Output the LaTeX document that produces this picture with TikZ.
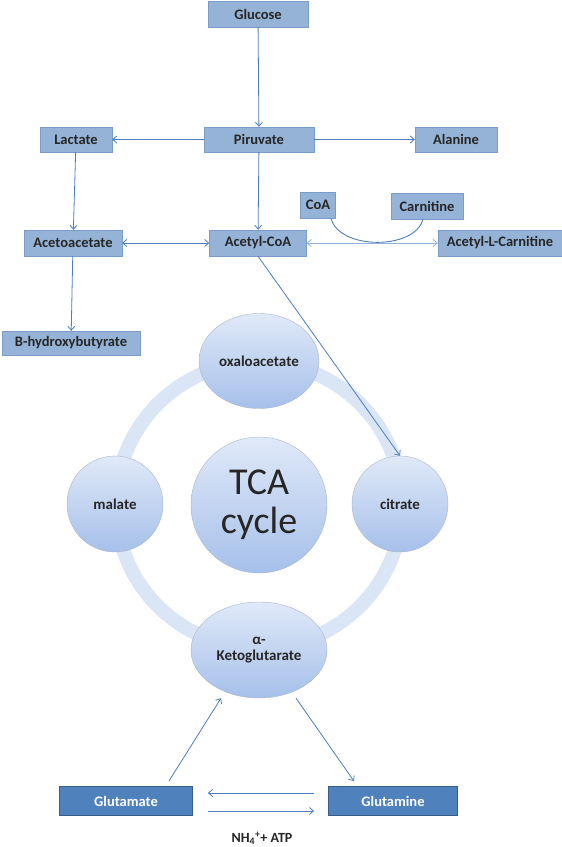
\documentclass[tikz,border=0pt]{standalone}
\usepackage{fontspec}
\setmainfont{Carlito}
\usetikzlibrary{arrows.meta,positioning,shapes.geometric}
\definecolor{boxblue}{RGB}{149,179,215}
\definecolor{boxedge}{RGB}{122,156,200}
\definecolor{darkblue}{RGB}{79,129,189}
\definecolor{darkedge}{RGB}{56,93,138}
\definecolor{arrowblue}{RGB}{74,126,191}
\definecolor{ringblue}{RGB}{218,229,245}
\definecolor{circtop}{RGB}{224,233,248}
\definecolor{circbot}{RGB}{166,192,234}
\definecolor{circedge}{RGB}{170,182,202}
\tikzset{
  metbox/.style={draw=boxedge, fill=boxblue, inner sep=0pt, minimum height=26pt, text=black!85, font=\fontsize{14.5}{16}\selectfont\bfseries},
  darkbox/.style={draw=darkedge, line width=0.8pt, fill=darkblue, inner sep=0pt, minimum height=29pt, text=white, font=\fontsize{14.5}{16}\selectfont\bfseries},
  cyclenode/.style={ellipse, draw=circedge, top color=circtop, bottom color=circbot, inner sep=0pt, align=center, text=black!85, font=\fontsize{15}{16}\selectfont\bfseries},
  metarrow/.style={-{Straight Barb[length=4pt,width=7pt]}, draw=arrowblue, line width=0.8pt},
  metboth/.style={{Straight Barb[length=4pt,width=7pt]}-{Straight Barb[length=4pt,width=7pt]}, draw=arrowblue, line width=0.8pt}
}
\begin{document}
\begin{tikzpicture}[x=1pt, y=-1pt]
  \useasboundingbox[fill=white] (0,0) rectangle (562,847);
  % upper pathway
  \node[metbox, minimum width=100pt] (glucose) at (258,14) {Glucose};
  \node[metbox, minimum width=110pt, minimum height=25pt] (piruvate) at (259,139.5) {Piruvate};
  \node[metbox, minimum width=72pt, minimum height=25pt] (lactate) at (76,139.5) {Lactate};
  \node[metbox, minimum width=82pt, minimum height=25pt] (alanine) at (456,139.5) {Alanine};
  \node[metbox, minimum width=35pt] (coa) at (318,205) {CoA};
  \node[metbox, minimum width=72pt] (carnitine) at (427,206) {Carnitine};
  \node[metbox, minimum width=98pt] (acetoacetate) at (73,243) {Acetoacetate};
  \node[metbox, minimum width=97pt] (acetylcoa) at (258,243) {Acetyl-CoA};
  \node[metbox, minimum width=124pt] (acetylcarn) at (500,243) {Acetyl-L-Carnitine};
  \node[metbox, minimum width=138pt, minimum height=24pt] (hydroxy) at (71,343) {B-hydroxybutyrate};
  % TCA cycle
  \draw[ringblue, line width=14pt] (259,505) circle [radius=143pt];
  \node[cyclenode, minimum width=120pt, minimum height=95pt] (oxalo) at (259,361) {oxaloacetate};
  \node[cyclenode, minimum size=96pt] (malate) at (115,504) {malate};
  \node[cyclenode, minimum size=96pt] (citrate) at (400,504) {citrate};
  \node[cyclenode, minimum size=136pt, font=\fontsize{38}{39}\selectfont] (tca) at (259,505) {TCA\\cycle};
  \node[cyclenode, minimum width=136pt, minimum height=96pt] (akg) at (259,650) {α-\\Ketoglutarate};
  % glutamine loop
  \node[darkbox, minimum width=133pt] (glutamate) at (126,801) {Glutamate};
  \node[darkbox, minimum width=129pt] (glutamine) at (393,801) {Glutamine};
  \node[font=\fontsize{14}{16}\selectfont\bfseries, text=black!85] (nh4) at (262,838) {NH\textsubscript{4}\textsuperscript{+}+ ATP};
  \draw[metarrow] (glucose) -- (piruvate);
  \draw[metarrow] (piruvate) -- (lactate);
  \draw[metarrow] (piruvate) -- (alanine);
  \draw[metarrow] (piruvate) -- (acetylcoa);
  \draw[metarrow] (lactate) -- (acetoacetate);
  \draw[metarrow] (acetoacetate) -- (hydroxy);
  \draw[metboth] (acetoacetate) -- (acetylcoa);
  \draw[metboth, draw=arrowblue!60] (acetylcoa) -- (acetylcarn);
  \draw[arrowblue, line width=0.9pt] ([xshift=13pt]coa.south) .. controls +(8,32) and +(-8,31) .. ([xshift=-4pt]carnitine.south);
  \draw[metarrow] (acetylcoa.south) -- (citrate.north);
  \draw[metarrow] ([xshift=-24pt, yshift=5pt]glutamate.north east) -- ([xshift=-38pt]akg.south);
  \draw[metarrow] ([xshift=37pt]akg.south) -- ([xshift=-39pt, yshift=5pt]glutamine.north);
  \draw[metarrow] ([xshift=-14pt, yshift=8pt]glutamine.west) -- ([xshift=15pt, yshift=8pt]glutamate.east);
  \draw[metarrow] ([xshift=15pt, yshift=-10pt]glutamate.east) -- ([xshift=-14pt, yshift=-10pt]glutamine.west);
\end{tikzpicture}
\end{document}
